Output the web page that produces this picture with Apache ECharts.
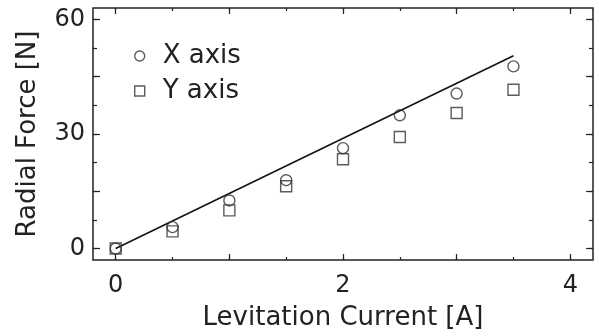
<!DOCTYPE html>
<html>
<head>
<meta charset="utf-8">
<script src="https://cdn.jsdelivr.net/npm/echarts@6/dist/echarts.min.js"></script>
<style>
  html, body { margin: 0; padding: 0; background: #fff; }
  #chart { width: 599px; height: 336px; }
</style>
</head>
<body>
<div id="chart"></div>
<script>
// levitation current [A]
const current = [0, 0.5, 1.0, 1.5, 2.0, 2.5, 3.0, 3.5];
// measured radial force [N]
const forceX = [0, 5.6, 12.6, 17.9, 26.3, 34.9, 40.6, 47.7];
const forceY = [0, 4.5, 10.0, 16.3, 23.4, 29.2, 35.5, 41.6];
// calculated line (end points)
const calcCurrent = [0, 3.5];
const calcForce = [0, 50.5];

const xTicksMinor = [0, 0.5, 1, 1.5, 2, 2.5, 3, 3.5, 4];
const xTicksMajor = [0, 1, 2, 3, 4];
const xLabels = [0, 2, 4];
const yTicksMinor = [0, 7.5, 15, 22.5, 30, 37.5, 45, 52.5, 60];
const yTicksMajor = [0, 15, 30, 45, 60];
const yLabels = [0, 30, 60];

const FONT = "DejaVu Sans";
const INK = "#222";

const chart = echarts.init(document.getElementById("chart"));

function xAxisDef(position, ticks, len, labels, withName) {
    return {
        type: "value",
        position: position,
        offset: 0,
        min: -0.2,
        max: 4.2,
        name: withName ? "Levitation Current [A]" : "",
        nameLocation: "middle",
        nameGap: 45,
        nameTextStyle: { fontFamily: FONT, fontSize: 26, color: INK },
        axisLine: { show: false, onZero: false },
        splitLine: { show: false },
        axisTick: {
            show: true,
            inside: true,
            length: len,
            customValues: ticks,
            lineStyle: { color: INK, width: 1.2 },
        },
        axisLabel: labels
            ? {
                  show: true,
                  customValues: labels,
                  margin: 14,
                  fontFamily: FONT,
                  fontSize: 24,
                  color: INK,
              }
            : { show: false },
    };
}

function yAxisDef(position, ticks, len, labels, withName) {
    return {
        type: "value",
        position: position,
        offset: 0,
        min: -3,
        max: 63,
        name: withName ? "Radial Force [N]" : "",
        nameLocation: "middle",
        nameGap: 52,
        nameTextStyle: { fontFamily: FONT, fontSize: 26, color: INK },
        axisLine: { show: false, onZero: false },
        splitLine: { show: false },
        axisTick: {
            show: true,
            inside: true,
            length: len,
            customValues: ticks,
            lineStyle: { color: INK, width: 1.2 },
        },
        axisLabel: labels
            ? {
                  show: true,
                  customValues: labels,
                  margin: 8,
                  fontFamily: FONT,
                  fontSize: 24,
                  color: INK,
              }
            : { show: false },
    };
}

const hollow = {
    color: "rgba(0,0,0,0)",
    borderColor: "#333",
    borderWidth: 1.4,
};

const options = {
    animation: false,
    backgroundColor: "#fff",
    grid: {
        left: 93,
        right: 6,
        top: 8,
        bottom: 76,
        show: true,
        borderColor: INK,
        borderWidth: 1.5,
        backgroundColor: "rgba(0,0,0,0)",
    },
    legend: {
        orient: "vertical",
        left: 134,
        top: 43,
        padding: 0,
        itemWidth: 10,
        itemHeight: 10,
        itemGap: 9,
        textStyle: {
            fontFamily: FONT,
            fontSize: 26,
            color: INK,
            padding: [0, 0, 0, 13],
        },
        data: [
            { name: "X axis", icon: "circle", itemStyle: hollow },
            { name: "Y axis", icon: "rect", itemStyle: hollow },
        ],
    },
    xAxis: [
        xAxisDef("bottom", xTicksMinor, 3, xLabels, true),
        xAxisDef("bottom", xTicksMajor, 6, null, false),
        xAxisDef("top", xTicksMinor, 3, null, false),
        xAxisDef("top", xTicksMajor, 6, null, false),
    ],
    yAxis: [
        yAxisDef("left", yTicksMinor, 4, yLabels, true),
        yAxisDef("left", yTicksMajor, 7, null, false),
        yAxisDef("right", yTicksMinor, 4, null, false),
        yAxisDef("right", yTicksMajor, 7, null, false),
    ],
    series: [
        {
            name: "calc",
            type: "line",
            data: calcCurrent.map((c, i) => [c, calcForce[i]]),
            showSymbol: false,
            lineStyle: { color: "#111", width: 1.5 },
            z: 1,
        },
        {
            name: "X axis",
            type: "scatter",
            symbol: "circle",
            symbolSize: 11,
            data: current.map((c, i) => [c, forceX[i]]),
            itemStyle: hollow,
            z: 2,
        },
        {
            name: "Y axis",
            type: "scatter",
            symbol: "rect",
            symbolSize: 11,
            data: current.map((c, i) => [c, forceY[i]]),
            itemStyle: hollow,
            z: 2,
        },
    ],
};

chart.setOption(options);
</script>
</body>
</html>
